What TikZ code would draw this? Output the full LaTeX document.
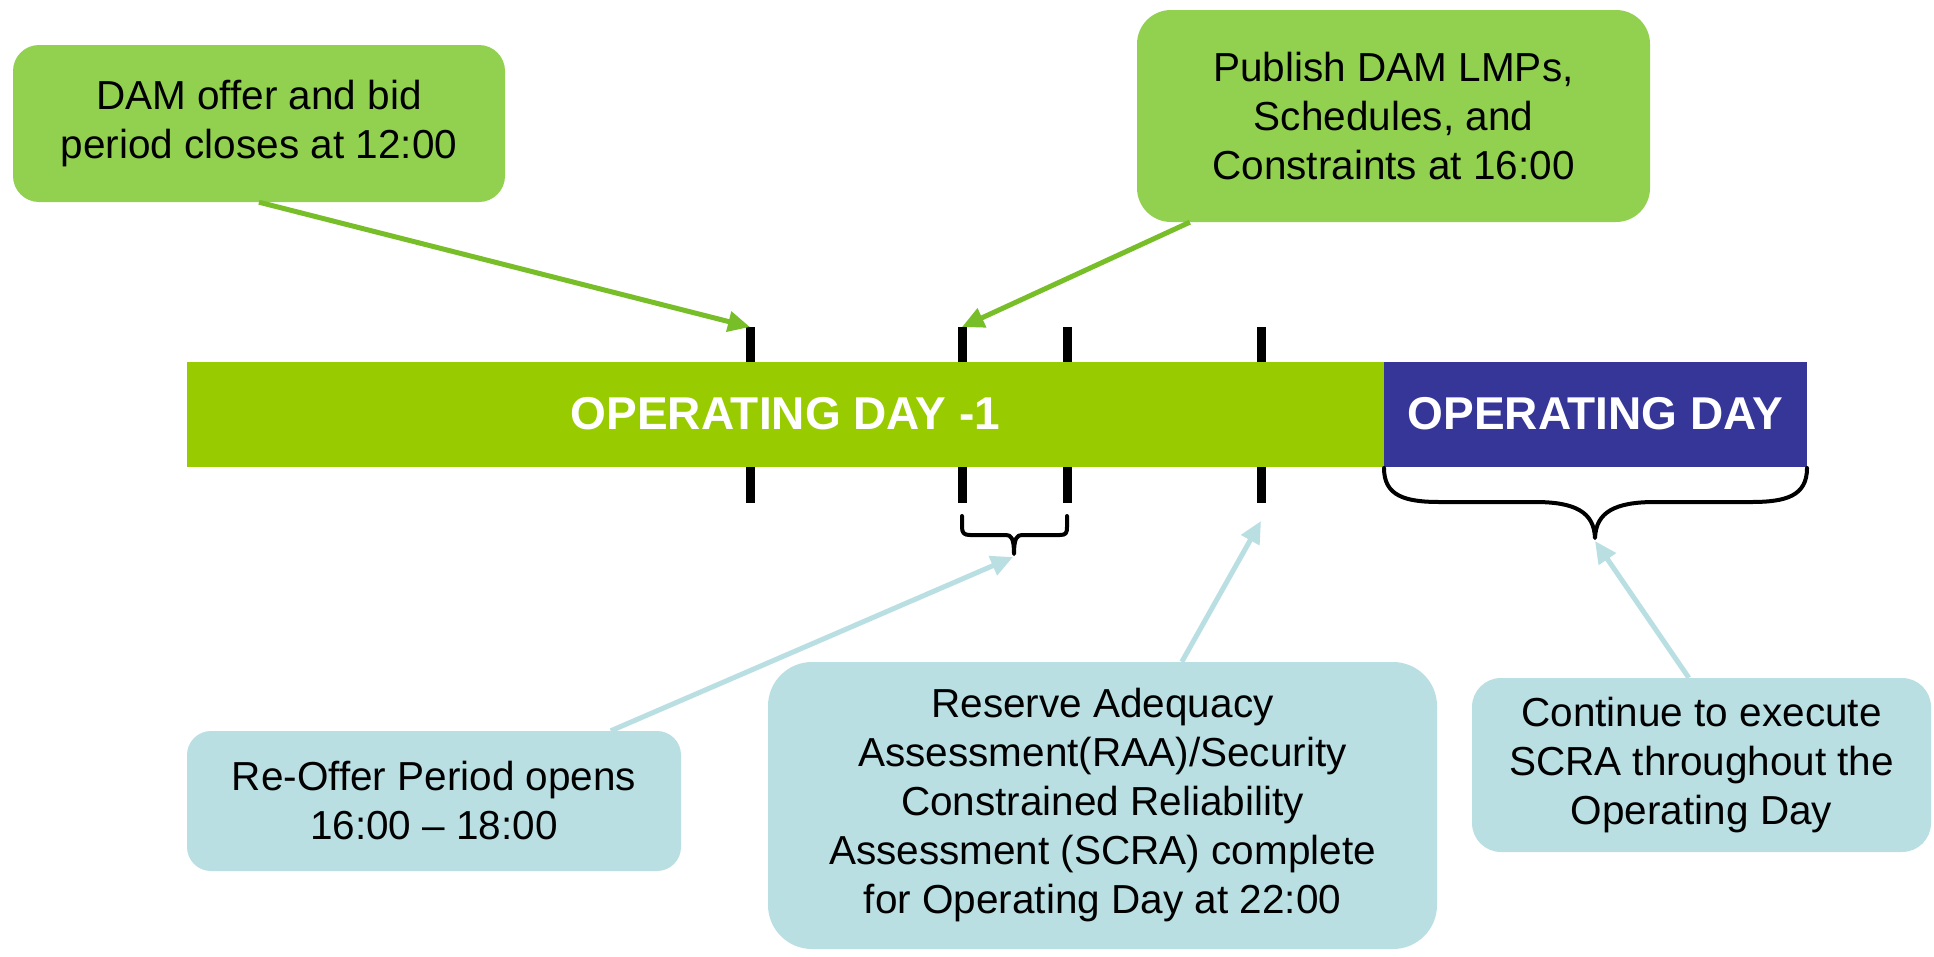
\documentclass[tikz,border=0pt]{standalone}
\usepackage{fontspec}
\setmainfont{Liberation Sans}
\usetikzlibrary{arrows.meta,calc}
\definecolor{boxgreen}{HTML}{92D050}
\definecolor{bargreen}{HTML}{99CC00}
\definecolor{barblue}{HTML}{363698}
\definecolor{boxblue}{HTML}{B9DFE3}
\definecolor{arrgreen}{HTML}{78BE28}
\definecolor{arrblue}{HTML}{B9DFE3}
\tikzset{
  callout/.style={rectangle, align=center, inner sep=0pt, text=black,
    font=\fontsize{40.5}{49}\selectfont},
  greenbox/.style={callout, fill=boxgreen},
  bluebox/.style={callout, fill=boxblue},
  barnode/.style={rectangle, inner sep=0pt, text=white,
    font=\bfseries\fontsize{46}{50}\selectfont},
  tickline/.style={line width=9pt, black},
  bracestyle/.style={line width=4pt, black, line cap=round, line join=round},
  garrow/.style={line width=5pt, arrgreen, -{Triangle[length=22pt,width=20pt]}},
  barrow/.style={line width=5pt, arrblue, -{Triangle[length=22pt,width=20pt]}}
}
\begin{document}
\begin{tikzpicture}[x=1pt,y=-1pt]
\useasboundingbox (0,0) rectangle (1934,956);
\fill[white] (0,0) rectangle (1934,956);

% ticks (behind the bars)
\coordinate (t1top) at (750,327);  \coordinate (t1bot) at (750,503);
\coordinate (t2top) at (962,327);  \coordinate (t2bot) at (962,503);
\coordinate (t3top) at (1067,327); \coordinate (t3bot) at (1067,503);
\coordinate (t4top) at (1261,327); \coordinate (t4bot) at (1261,503);
\draw[tickline] (t1top) -- (t1bot);
\draw[tickline] (t2top) -- (t2bot);
\draw[tickline] (t3top) -- (t3bot);
\draw[tickline] (t4top) -- (t4bot);

% bars
\node[barnode, fill=bargreen, minimum width=1197pt, minimum height=105pt] (bar1) at (785.5,414) {OPERATING DAY -1};
\node[barnode, fill=barblue, minimum width=423pt, minimum height=105pt] (bar2) at (1595.5,414) {OPERATING DAY};

% small brace
\coordinate (sbtip) at (1014,554);
\draw[bracestyle] (962,516) -- (962,527) .. controls (962,533) and (964,535) .. (970,535)
  -- (1006,535) .. controls (1011,535) and (1014,538) .. (sbtip)
  .. controls (1014,538) and (1017,535) .. (1022,535)
  -- (1060,535) .. controls (1066,535) and (1067,533) .. (1067,527) -- (1067,516);

% big brace
\coordinate (bbtip) at (1595,538);
\draw[bracestyle] (1384,468) .. controls (1384,496) and (1405,502) .. (1440,502)
  -- (1535,502) .. controls (1575,502) and (1594,512) .. (bbtip)
  .. controls (1596,512) and (1615,502) .. (1655,502)
  -- (1751,502) .. controls (1786,502) and (1807,496) .. (1807,468);

% callout boxes
\node[greenbox, rounded corners=26pt, minimum width=492pt, minimum height=157pt] (box1) at (259,123.5)
  {DAM offer and bid\\period closes at 12:00};
\node[greenbox, rounded corners=34pt, minimum width=513pt, minimum height=212pt] (box2) at (1393.5,116)
  {Publish DAM LMPs,\\Schedules, and\\Constraints at 16:00};
\node[bluebox, rounded corners=24pt, minimum width=494pt, minimum height=140pt] (box3) at (434,801)
  {Re-Offer Period opens\\16:00 -- 18:00};
\node[bluebox, rounded corners=44pt, minimum width=669pt, minimum height=287pt] (box4) at (1102.5,805.5)
  {Reserve Adequacy\\Assessment(RAA)/Security\\Constrained Reliability\\Assessment (SCRA) complete\\for Operating Day at 22:00};
\node[bluebox, rounded corners=29pt, minimum width=459pt, minimum height=174pt] (box5) at (1701.5,765)
  {Continue to execute\\SCRA throughout the\\Operating Day};

% connectors
\draw[garrow] (box1.south) -- (t1top);
\draw[garrow] ($(box2.south west)+(53,0)$) -- (t2top);
\coordinate (a3end) at (1013,557);
\coordinate (a4end) at (1261,521);
\coordinate (a5end) at (1595,541);
\draw[barrow] ($(box3.north west)+(424,0)$) -- (a3end);
\draw[barrow] ($(box4.north west)+(414,0)$) -- (a4end);
\draw[barrow] ($(box5.north west)+(217,0)$) -- (a5end);
\end{tikzpicture}
\end{document}
